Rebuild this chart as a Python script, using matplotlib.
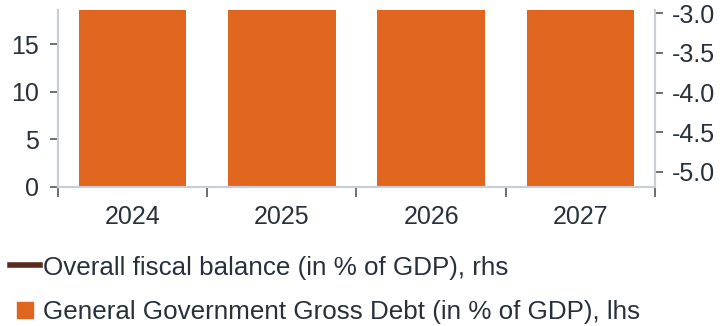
import matplotlib.pyplot as plt
import numpy as np
from matplotlib.lines import Line2D

plt.rcParams['font.family'] = ['Liberation Sans', 'DejaVu Sans']

# Data
years = ['2024', '2025', '2026', '2027']
gross_debt = [55.0, 54.0, 53.0, 52.0]        # % of GDP, lhs
fiscal_balance = [-2.6, -2.4, -2.2, -2.1]    # % of GDP, rhs

bar_color = '#E0651F'
line_color = '#5C2A1C'
text_color = '#27303b'
spine_color = '#c9ced6'

fig = plt.figure(figsize=(7.23, 3.26), dpi=100)
ax = fig.add_axes([0.0802, 0.4264, 0.8257, 0.5429])
ax2 = ax.twinx()

x = np.arange(len(years))
ax.bar(x, gross_debt, width=0.72, color=bar_color, zorder=2)
ax2.plot(x, fiscal_balance, color=line_color, linewidth=3, zorder=3)

ax.set_xlim(-0.5, len(years) - 0.5)
ax.set_ylim(0, 18.57)
ax2.set_ylim(-5.19, -2.96)

ax.set_yticks([0, 5, 10, 15])
ax2.set_yticks([-5.0, -4.5, -4.0, -3.5, -3.0])
ax2.set_yticklabels(['-5.0', '-4.5', '-4.0', '-3.5', '-3.0'])

# category labels in the middle, tick marks on the boundaries
ax.set_xticks(x)
ax.set_xticklabels(years)
ax.set_xticks(np.arange(-0.5, len(years)), minor=True)
ax.tick_params(axis='x', which='major', length=0, pad=13,
               labelsize=18, labelcolor=text_color)
ax.tick_params(axis='x', which='minor', length=7, width=1.2,
               color='#555555', direction='out')

ax.tick_params(axis='y', length=6, width=1.2, color='#555555', pad=8,
               labelsize=18, labelcolor=text_color)
ax2.tick_params(axis='y', length=6, width=1.2, color='#555555', pad=6,
                labelsize=18, labelcolor=text_color)

for a in (ax, ax2):
    a.spines['top'].set_visible(False)
    for side in ('left', 'right', 'bottom'):
        a.spines[side].set_color(spine_color)
        a.spines[side].set_linewidth(1.5)

handles = [
    Line2D([0], [0], color=line_color, linewidth=4),
    Line2D([0], [0], color=bar_color, marker='s', markersize=12,
           linestyle='none'),
]
labels = [
    'Overall fiscal balance (in % of GDP), rhs',
    'General Government Gross Debt (in % of GDP), lhs',
]
fig.legend(handles, labels, loc='upper left', bbox_to_anchor=(0.014, 0.216),
           frameon=False, fontsize=18.7, labelcolor=text_color,
           handlelength=1.15, handletextpad=0.12,
           labelspacing=0.8, borderaxespad=0, borderpad=0)

fig.savefig('out.png', dpi=100)
